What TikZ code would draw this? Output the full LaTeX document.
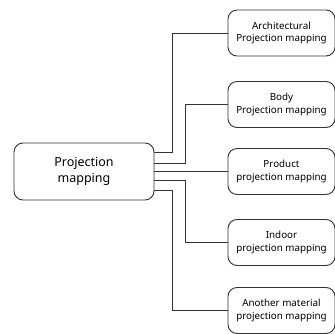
\documentclass[tikz,border=0pt]{standalone}
\usepackage{fontspec}
\setmainfont{Noto Sans}
\usetikzlibrary{positioning,calc}
\definecolor{linegray}{HTML}{333333}

\begin{document}
\begin{tikzpicture}[x=1pt,y=1pt,
  box/.style={draw=linegray, rounded corners=9pt, line width=0.9pt, align=center, inner sep=0pt},
  mainbox/.style={box, minimum width=140pt, minimum height=57pt, font=\fontsize{12.5}{16}\selectfont},
  subbox/.style={box, minimum width=107pt, minimum height=46pt, font=\fontsize{9.8}{12.5}\selectfont},
  link/.style={draw=linegray, line width=0.9pt}]
  \useasboundingbox (0,0) rectangle (335,333);
  \node[mainbox] (main) at (84,161.5) {Projection\\mapping};
  \node[subbox] (arch) at (281.5,300) {Architectural\\Projection mapping};
  \node[subbox] (body) at (281.5,228.5) {Body\\Projection mapping};
  \node[subbox] (prod) at (281.5,161.5) {Product\\projection mapping};
  \node[subbox] (indoor) at (281.5,90.5) {Indoor\\projection mapping};
  \node[subbox] (other) at (281.5,22.5) {Another material\\projection mapping};
  \draw[link] ([yshift=19.5pt]main.east) -- ++(18,0) |- (arch.west);
  \draw[link] ([yshift=8.5pt]main.east) -- ++(31,0) |- (body.west);
  \draw[link] (main.east) -- (prod.west);
  \draw[link] ([yshift=-8.5pt]main.east) -- ++(31,0) |- (indoor.west);
  \draw[link] ([yshift=-18.5pt]main.east) -- ++(18,0) |- (other.west);
\end{tikzpicture}
\end{document}
